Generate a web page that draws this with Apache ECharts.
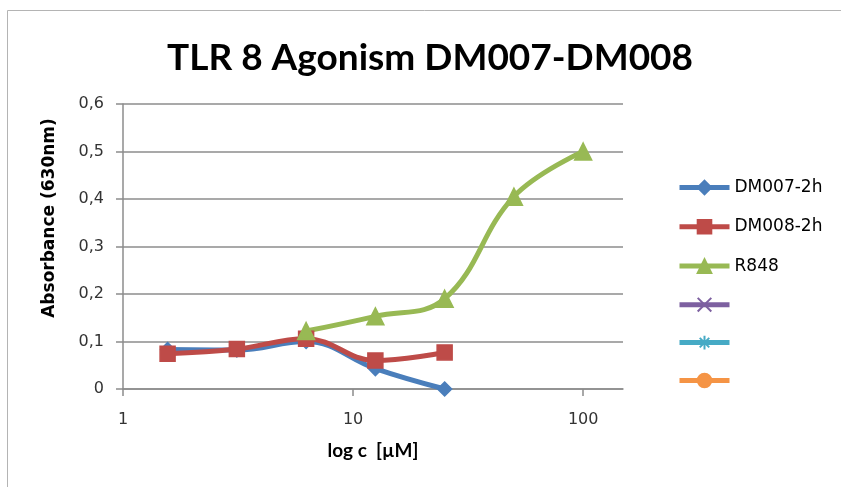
<!DOCTYPE html>
<html>
<head>
<meta charset="utf-8">
<script src="https://cdn.jsdelivr.net/npm/echarts@6/dist/echarts.min.js"></script>
<style>html,body{margin:0;padding:0;background:#fff;}#c{width:841px;height:487px;}</style>
</head>
<body>
<div id="c"></div>
<script>
const conc = [1.5625, 3.125, 6.25, 12.5, 25, 50, 100];
const dm007 = [0.083, 0.082, 0.100, 0.043, 0.000];
const dm008 = [0.074, 0.084, 0.106, 0.060, 0.077];
const r848Conc = [6.25, 12.5, 25, 50, 100];
const r848 = [0.122, 0.153, 0.190, 0.405, 0.500];
const seriesNames = ['DM007-2h', 'DM008-2h', 'R848', 'Series4', 'Series5', 'Series6'];
const shownNames = ['DM007-2h', 'DM008-2h', 'R848'];
const yTicks = ['0', '0,1', '0,2', '0,3', '0,4', '0,5', '0,6'];

const pairs = (xs, ys) => ys.map((v, i) => [xs[i], v]);
const chart = echarts.init(document.getElementById('c'));
const lineW = 5;
function mk(name, color, symbol, size, data) {
  return {
    name: name, type: 'line', data: data, smooth: 0.4,
    symbol: symbol, symbolSize: size, showSymbol: true,
    lineStyle: { color: color, width: lineW },
    itemStyle: { color: color, borderColor: color, borderWidth: 1.5 },
    emphasis: { disabled: true }
  };
}
chart.setOption({
  animation: false,
  backgroundColor: '#fff',
  title: {
    text: 'TLR 8 Agonism DM007-DM008',
    left: 425, top: 35, textAlign: 'center',
    textStyle: { fontFamily: 'Lato', fontWeight: 'bold', fontSize: 37, color: '#000' }
  },
  graphic: [
    { type: 'rect', shape: { x: 7.5, y: 10.5, width: 900, height: 600 },
      style: { fill: 'none', stroke: '#b4b4b4', lineWidth: 1 }, silent: true },
    { type: 'text', x: 50, y: 218, rotation: Math.PI / 2,
      style: { text: 'Absorbance (630nm)', font: 'bold 17px "DejaVu Sans"', fill: '#000',
               textAlign: 'center', textVerticalAlign: 'middle' } }
  ],
  legend: {
    orient: 'vertical', left: 672, top: 174,
    itemWidth: 50, itemHeight: 17, itemGap: 22.3,
    data: seriesNames,
    formatter: name => (shownNames.indexOf(name) >= 0 ? name : ''),
    lineStyle: { width: 5 },
    textStyle: { fontFamily: 'DejaVu Sans', fontSize: 17, lineHeight: 17, color: '#000' },
    selectedMode: false
  },
  grid: { left: 123, right: 218, top: 104, bottom: 98 },
  xAxis: {
    type: 'log', logBase: 10, min: 1, max: 149,
    name: 'log c  [µM]', nameLocation: 'middle', nameGap: 52,
    nameTextStyle: { fontFamily: 'Lato', fontWeight: 'bold', fontSize: 19, color: '#000' },
    axisLine: { show: true, lineStyle: { color: '#8c8c8c', width: 1.5 } },
    axisTick: { show: true, inside: false, length: 7, lineStyle: { color: '#8c8c8c', width: 1.5 } },
    minorTick: { show: false },
    splitLine: { show: false },
    axisLabel: { margin: 23, fontFamily: 'DejaVu Sans', fontSize: 16, color: '#333', showMaxLabel: false,
      formatter: v => String(Math.round(v)) }
  },
  yAxis: {
    type: 'value', min: 0, max: 0.6, interval: 0.1,
    axisLine: { show: true, lineStyle: { color: '#8c8c8c', width: 1.5 } },
    axisTick: { show: true, inside: false, length: 7, lineStyle: { color: '#8c8c8c', width: 1.5 } },
    splitLine: { show: true, lineStyle: { color: '#8c8c8c', width: 1.5 } },
    axisLabel: { margin: 19, fontFamily: 'DejaVu Sans', fontSize: 16, color: '#333',
      formatter: (v) => yTicks[Math.round(v * 10)] }
  },
  series: [
    mk(seriesNames[0], '#4A7EBB', 'diamond', 14, pairs(conc, dm007)),
    mk(seriesNames[1], '#BE4B48', 'rect', 15, pairs(conc, dm008)),
    mk(seriesNames[2], '#98B954', 'triangle', 17, pairs(r848Conc, r848)),
    mk(seriesNames[3], '#7D60A0', 'path://M0,0L10,10M10,0L0,10', 13, []),
    mk(seriesNames[4], '#46AAC5', 'path://M5,0L5,10M0,5L10,5M1.5,1.5L8.5,8.5M8.5,1.5L1.5,8.5', 13, []),
    mk(seriesNames[5], '#F59445', 'circle', 14, [])
  ]
});
</script>
</body>
</html>
